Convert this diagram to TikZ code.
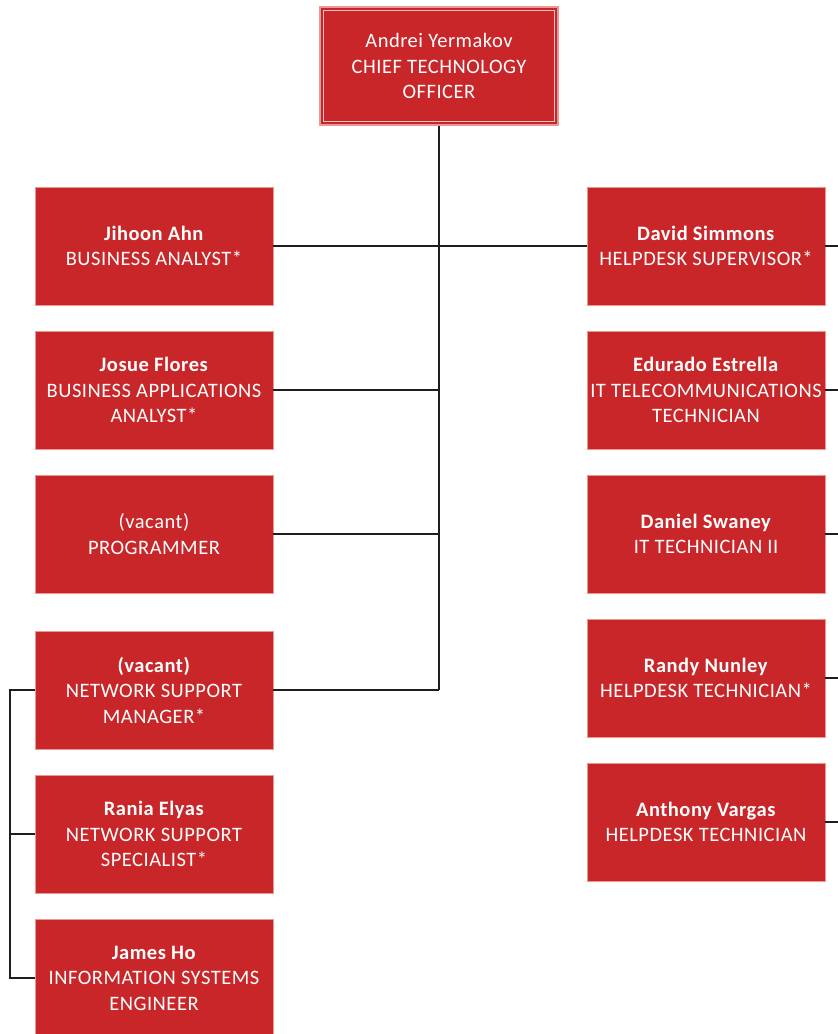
\documentclass[tikz,border=0pt]{standalone}
\usepackage{fontspec}
\setmainfont[LetterSpace=2.5]{Carlito}
\definecolor{boxred}{RGB}{200,38,41}
\definecolor{boxedge}{RGB}{232,150,150}
\definecolor{linegray}{RGB}{30,30,30}
\tikzset{
  person/.style={draw=boxedge, line width=0.8pt, fill=boxred, text=white,
    minimum width=238pt, minimum height=118pt, inner sep=0pt, align=center,
    font=\fontsize{20.5}{25.5}\selectfont},
  ceobox/.style={person, line width=1.6pt},
  conn/.style={draw=linegray, line width=1.5pt},
}
\begin{document}
\begin{tikzpicture}[x=1pt,y=-1pt]
\clip (0,0) rectangle (838,1034);
\fill[white] (0,0) rectangle (838,1034);
\coordinate (ledge) at (10,0);
\coordinate (redge) at (840,0);
% CEO
\node[ceobox] (ceo) at (439,66) {Andrei Yermakov\\CHIEF TECHNOLOGY\\OFFICER};
\draw[boxedge!60!white, line width=0.9pt] ([shift={(4pt,4pt)}]ceo.south west) rectangle ([shift={(-4pt,-4pt)}]ceo.north east);
% left column
\node[person] (jihoon) at (154,246) {\textbf{Jihoon Ahn}\\BUSINESS ANALYST*};
\node[person] (josue) at (154,390) {\textbf{Josue Flores}\\BUSINESS APPLICATIONS\\ANALYST*};
\node[person] (prog) at (154,534) {(vacant)\\PROGRAMMER};
\node[person] (nsm) at (154,690) {\textbf{(vacant)}\\NETWORK SUPPORT\\MANAGER*};
\node[person] (rania) at (154,834) {\textbf{Rania Elyas}\\NETWORK SUPPORT\\SPECIALIST*};
\node[person] (jho) at (154,978) {\textbf{James Ho}\\INFORMATION SYSTEMS\\ENGINEER};
% right column
\node[person] (david) at (706,246) {\textbf{David Simmons}\\HELPDESK SUPERVISOR*};
\node[person] (edurado) at (706,390) {\textbf{Edurado Estrella}\\IT TELECOMMUNICATIONS\\TECHNICIAN};
\node[person] (daniel) at (706,534) {\textbf{Daniel Swaney}\\IT TECHNICIAN II};
\node[person] (randy) at (706,678) {\textbf{Randy Nunley}\\HELPDESK TECHNICIAN*};
\node[person] (anthony) at (706,822) {\textbf{Anthony Vargas}\\HELPDESK TECHNICIAN};
% connectors
\draw[conn] (ceo.south) -- (ceo.south |- nsm.east);
\draw[conn] (jihoon.east) -- (david.west);
\draw[conn] (josue.east) -- (josue.east -| ceo.south);
\draw[conn] (prog.east) -- (prog.east -| ceo.south);
\draw[conn] (nsm.east) -- (nsm.east -| ceo.south);
\draw[conn] (nsm.west) -- (nsm.west -| ledge) -- (jho.west -| ledge) -- (jho.west);
\draw[conn] (rania.west) -- (rania.west -| ledge);
\draw[conn] (david.east) -- (david.east -| redge);
\draw[conn] (edurado.east) -- (edurado.east -| redge);
\draw[conn] (daniel.east) -- (daniel.east -| redge);
\draw[conn] (randy.east) -- (randy.east -| redge);
\draw[conn] (anthony.east) -- (anthony.east -| redge);
\end{tikzpicture}
\end{document}
